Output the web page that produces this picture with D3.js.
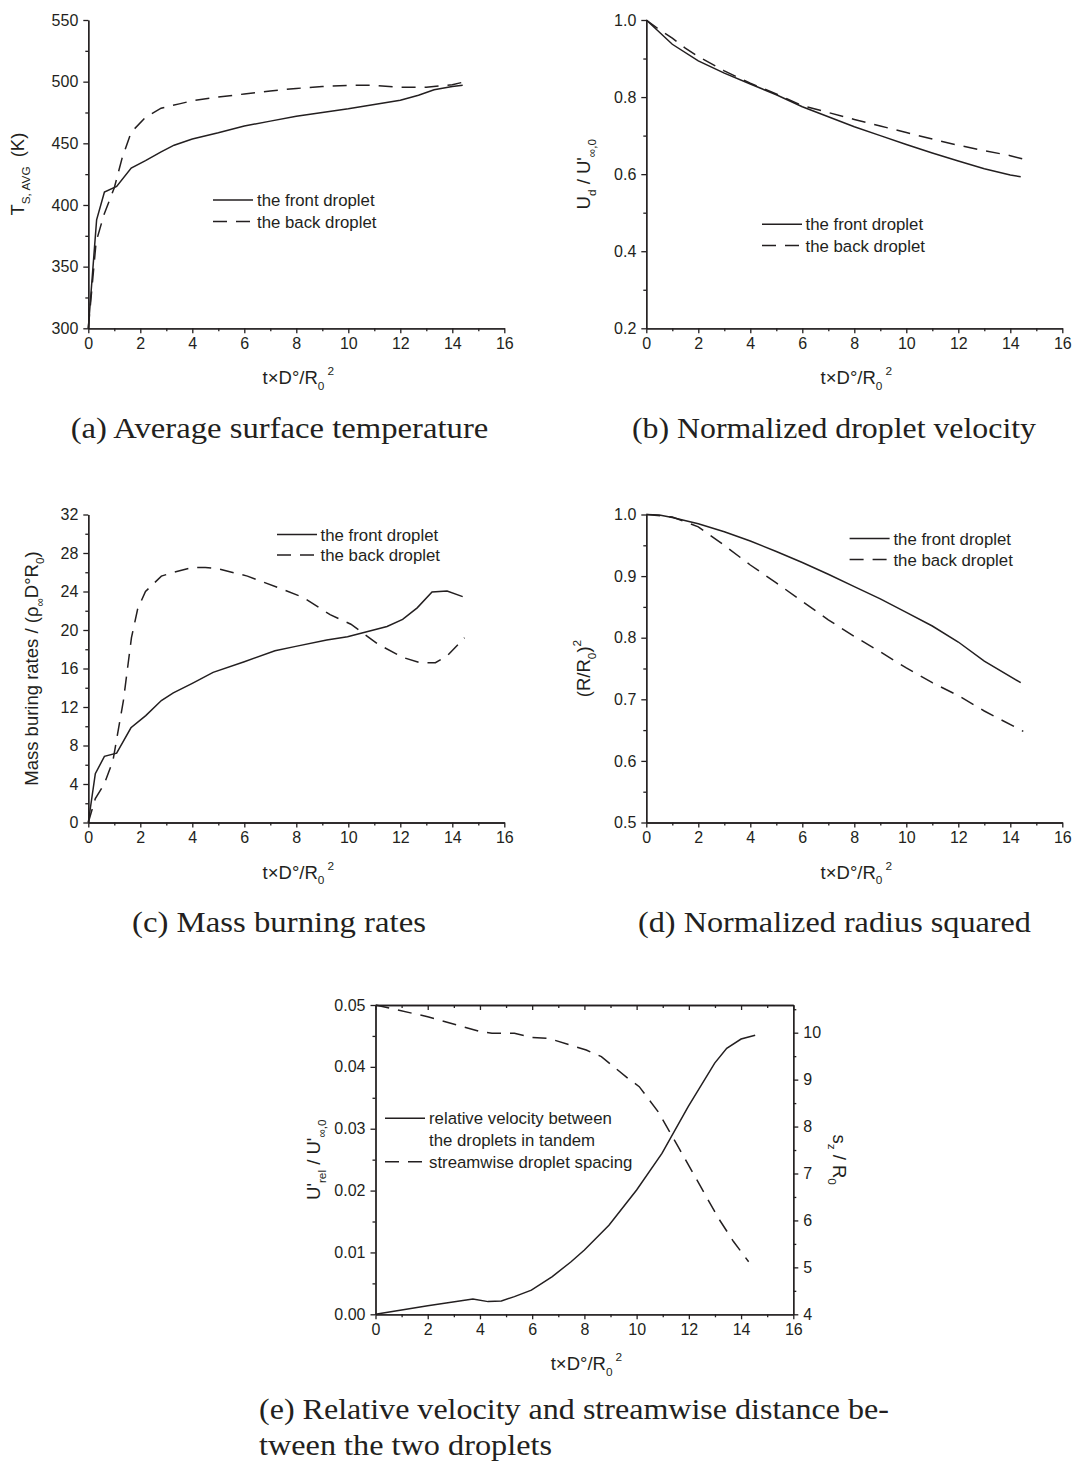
<!DOCTYPE html>
<html lang="en">
<head>
<meta charset="utf-8">
<title>Tandem droplets</title>
<style>
  body { margin: 0; background: #fff; }
  svg { display: block; }
  .tick text, .lbl { font-family: "Liberation Sans", Arial, sans-serif; fill: #231f20; }
  .tick text { font-size: 16px; }
  .cap { font-family: "Liberation Serif", "Times New Roman", serif; fill: #231f20; font-size: 29px; }
  .domain, .tick line { stroke: #231f20; stroke-width: 1.3; }
</style>
</head>
<body>
<svg id="fig" width="1078" height="1468"></svg>
<script src="https://cdn.jsdelivr.net/npm/d3@7/dist/d3.min.js"></script>
<script>
// ---- data: [t x D/R0^2, value] ----
const frontTemp = [[0,300],[0.32,388],[0.62,410.5],[1.09,415],[1.65,430],[2.2,436],[2.8,443],[3.3,448.5],[4,453.5],[5,458.5],[6,464],[7,468],[8,472],[9,475],[10,478],[11,481.5],[12,485],[12.7,489],[13.3,493.5],[14,496],[14.4,497]];
const backTemp  = [[0,300],[0.3,370],[0.6,392],[1.0,414],[1.3,438],[1.65,459],[2.2,471],[2.8,478.5],[3.5,482],[4,484.5],[5,487.5],[6,490],[7,492.5],[8,494.5],[9,496],[10,497],[11,497],[12,495.5],[13,495.5],[14,497.5],[14.4,499.5]];

const frontVel = [[0,1.0],[1,0.937],[2,0.894],[3,0.862],[4,0.834],[5,0.806],[6,0.775],[7,0.749],[8,0.723],[9,0.7],[10,0.677],[11,0.655],[12,0.634],[13,0.614],[14,0.598],[14.4,0.593]];
const backVel  = [[0,1.0],[0.5,0.975],[1,0.953],[1.5,0.927],[2,0.905],[3,0.868],[4,0.836],[5,0.808],[6,0.778],[7,0.76],[8,0.742],[9,0.725],[10,0.708],[11,0.691],[12,0.675],[13,0.661],[14,0.648],[14.5,0.639]];

const frontBurn = [[0,0],[0.27,5.07],[0.62,6.87],[1.09,7.2],[1.64,9.84],[2.21,11.1],[2.81,12.67],[3.27,13.46],[4.0,14.46],[4.8,15.6],[6.0,16.7],[7.18,17.85],[7.98,18.3],[9.17,18.95],[9.97,19.3],[11.49,20.37],[12.09,21.1],[12.65,22.3],[13.22,23.96],[13.8,24.06],[14.4,23.47]];
const backBurn  = [[0,0],[0.27,2.49],[0.62,4.04],[0.95,6.45],[1.35,12.67],[1.66,19.2],[1.9,22.2],[2.2,24.0],[2.81,25.6],[3.3,26.0],[4.0,26.5],[4.5,26.5],[4.93,26.4],[6.12,25.6],[7.3,24.4],[8.25,23.4],[9.3,21.6],[10.1,20.6],[11.16,18.5],[12.1,17.15],[12.75,16.6],[13.35,16.6],[13.8,17.3],[14.47,19.2]];

const frontRad = [[0,1.0],[0.5,0.999],[1,0.995],[2,0.985],[3,0.972],[4,0.957],[5,0.94],[6,0.922],[7,0.903],[8,0.883],[9,0.863],[10,0.841],[11,0.819],[12,0.793],[13,0.762],[14.4,0.727]];
const backRad  = [[0,1.0],[1,0.996],[2,0.98],[3,0.95],[4,0.918],[5,0.889],[6,0.859],[7,0.829],[8,0.802],[9,0.777],[10,0.751],[11,0.727],[12,0.706],[13,0.681],[14.5,0.648]];

const relVel  = [[0,0],[2.0,0.0014],[3.73,0.00248],[4.31,0.00205],[4.82,0.00216],[5.32,0.00286],[5.97,0.0039],[6.77,0.0061],[7.49,0.0085],[8.0,0.0104],[8.94,0.0144],[10.0,0.0201],[10.97,0.026],[11.98,0.0336],[12.99,0.0406],[13.45,0.043],[14.0,0.0445],[14.54,0.0451]];
const spacing = [[0,10.59],[2.0,10.34],[3.15,10.16],[4.02,10.02],[4.46,9.99],[5.32,9.99],[5.97,9.9],[6.63,9.88],[8.07,9.63],[8.65,9.49],[9.66,9.03],[10.1,8.85],[10.82,8.32],[11.54,7.62],[12.27,6.9],[13.13,6.05],[13.71,5.55],[14.29,5.12]];

// ---- tick values ----
const timeTicks  = [0,2,4,6,8,10,12,14,16];
const tempTicks  = [300,350,400,450,500,550];
const velTicks   = [0.2,0.4,0.6,0.8,1.0];
const burnTicks  = [0,4,8,12,16,20,24,28,32];
const radTicks   = [0.5,0.6,0.7,0.8,0.9,1.0];
const relTicks   = [0,0.01,0.02,0.03,0.04,0.05];
const spaceTicks = [4,5,6,7,8,9,10];

const legendPair = ["the front droplet", "the back droplet"];
const legendRel  = ["relative velocity between", "the droplets in tandem", "streamwise droplet spacing"];

const INK = "#231f20";
const DASH = "14,9";
const TITLE = 18.5;
const svg = d3.select("#fig");

const mids = a => a.slice(1).map((v, i) => (v + a[i]) / 2);

function rich(sel, parts, base) {
  // parts: [text, shift] shift 0 normal, 1 subscript, -1 superscript
  let cur = 0;
  parts.forEach(([s, k, dx]) => {
    const off = k === 1 ? 5.5 : k === -1 ? -9 : 0;
    const t = sel.append("tspan").text(s).attr("dy", off - cur);
    if (k) t.attr("font-size", base * 0.64);
    if (dx) t.attr("dx", dx);
    cur = off;
  });
}

function axisGroup(parent, axis, tr) {
  return parent.append("g").attr("transform", tr).call(axis);
}

function panel(o) {
  const g = svg.append("g");
  const x = d3.scaleLinear().domain([0, 16]).range([o.left, o.right]);
  const y = d3.scaleLinear().domain(o.yDomain).range([o.bottom, o.top]);

  axisGroup(g, d3.axisBottom(x).tickValues(mids(timeTicks)).tickSize(3).tickSizeOuter(0).tickFormat(""), `translate(0,${o.bottom})`);
  axisGroup(g, d3.axisBottom(x).tickValues(timeTicks).tickSize(5).tickSizeOuter(0).tickPadding(4), `translate(0,${o.bottom})`);
  axisGroup(g, d3.axisLeft(y).tickValues(mids(o.yTicks)).tickSize(3).tickSizeOuter(0).tickFormat(""), `translate(${o.left},0)`);
  axisGroup(g, d3.axisLeft(y).tickValues(o.yTicks).tickSize(5).tickSizeOuter(0).tickPadding(5).tickFormat(d3.format(o.fmt)), `translate(${o.left},0)`);

  // x title
  const xt = g.append("text").attr("class", "lbl").attr("font-size", TITLE)
    .attr("text-anchor", "middle").attr("x", (o.left + o.right) / 2 + 2).attr("y", o.bottom + 56);
  rich(xt, [["t×D°/R", 0], ["0", 1], ["2", -1, 3]], TITLE);

  // y title
  const yc = (o.top + o.bottom) / 2;
  const yt = g.append("text").attr("class", "lbl").attr("font-size", TITLE)
    .attr("text-anchor", "middle")
    .attr("transform", `translate(${o.yTitleX},${yc}) rotate(-90)`);
  rich(yt, o.yTitle, TITLE);

  return { g, x, y };
}

function curve(p, x, y, data, dashed) {
  p.g.append("path").datum(data)
    .attr("fill", "none").attr("stroke", INK).attr("stroke-width", 1.5)
    .attr("stroke-dasharray", dashed ? DASH : null)
    .attr("d", d3.line().x(d => x(d[0])).y(d => y(d[1])));
}

function legend(p, lx, tx, rows, labels, dashes) {
  labels.forEach((s, i) => {
    if (dashes[i] !== undefined) {
      p.g.append("line").attr("x1", lx).attr("x2", lx + 40).attr("y1", rows[i]).attr("y2", rows[i])
        .attr("stroke", INK).attr("stroke-width", 1.5).attr("stroke-dasharray", dashes[i] ? DASH : null);
    }
    p.g.append("text").attr("class", "lbl").attr("font-size", 16.8)
      .attr("x", tx).attr("y", rows[i] + 6).text(s);
  });
}

function caption(lines, x, y0, widths) {
  lines.forEach((s, i) => {
    svg.append("text").attr("class", "cap").attr("x", x).attr("y", y0 + i * 36)
      .attr("textLength", widths[i]).attr("lengthAdjust", "spacingAndGlyphs").text(s);
  });
}

// (a)
const pa = panel({ left: 88.3, right: 504.3, top: 20, bottom: 328.3, yDomain: [300, 550], yTicks: tempTicks, fmt: "d",
  yTitleX: 24, yTitle: [["T", 0], ["S, AVG", 1], ["(K)", 0, 9]] });
curve(pa, pa.x, pa.y, frontTemp, false);
curve(pa, pa.x, pa.y, backTemp, true);
legend(pa, 213, 257, [200, 221.5], legendPair, [false, true]);

// (b)
const pb = panel({ left: 646.3, right: 1062.3, top: 20, bottom: 328.3, yDomain: [0.2, 1.0], yTicks: velTicks, fmt: ".1f",
  yTitleX: 590, yTitle: [["U", 0], ["d", 1], [" / U'", 0], ["∞,0", 1]] });
curve(pb, pb.x, pb.y, frontVel, false);
curve(pb, pb.x, pb.y, backVel, true);
legend(pb, 762, 805.5, [224.2, 245.6], legendPair, [false, true]);

// (c)
const pc = panel({ left: 88.3, right: 504.3, top: 514.5, bottom: 822.5, yDomain: [0, 32], yTicks: burnTicks, fmt: "d",
  yTitleX: 38, yTitle: [["Mass buring rates / (ρ", 0], ["∞", 1], ["D°R", 0], ["0", 1], [")", 0]] });
curve(pc, pc.x, pc.y, frontBurn, false);
curve(pc, pc.x, pc.y, backBurn, true);
legend(pc, 277, 320.6, [534.5, 555], legendPair, [false, true]);

// (d)
const pd = panel({ left: 646.3, right: 1062.3, top: 514.5, bottom: 822.5, yDomain: [0.5, 1.0], yTicks: radTicks, fmt: ".1f",
  yTitleX: 590, yTitle: [["(R/R", 0], ["0", 1], [")", 0], ["2", -1]] });
curve(pd, pd.x, pd.y, frontRad, false);
curve(pd, pd.x, pd.y, backRad, true);
legend(pd, 849.6, 893.4, [538.5, 559.5], legendPair, [false, true]);

// (e)
const pe = panel({ left: 375.5, right: 793.3, top: 1005, bottom: 1314.3, yDomain: [0, 0.05], yTicks: relTicks, fmt: ".2f",
  yTitleX: 320, yTitle: [["U'", 0], ["rel", 1], [" / U'", 0], ["∞,0", 1]] });
const y2 = d3.scaleLinear().domain([4, 10.59]).range([1314.3, 1005]);
axisGroup(pe.g, d3.axisBottom(pe.x).tickValues(mids(timeTicks)).tickSize(3).tickSizeOuter(0).tickFormat(""), `translate(0,1005)`);
axisGroup(pe.g, d3.axisBottom(pe.x).tickValues(timeTicks).tickSize(5).tickSizeOuter(0).tickFormat(""), `translate(0,1005)`);
axisGroup(pe.g, d3.axisRight(y2).tickValues(mids(spaceTicks).concat([10.5])).tickSize(3).tickSizeOuter(0).tickFormat(""), `translate(793.3,0)`);
axisGroup(pe.g, d3.axisRight(y2).tickValues(spaceTicks).tickSize(5).tickSizeOuter(0).tickPadding(5).tickFormat(d3.format("d")), `translate(793.3,0)`);
const rt = pe.g.append("text").attr("class", "lbl").attr("font-size", TITLE).attr("text-anchor", "middle")
  .attr("transform", `translate(833,${(1005 + 1314.3) / 2}) rotate(90)`);
rich(rt, [["s", 0], ["z", 1], [" / R", 0], ["0", 1]], TITLE);
curve(pe, pe.x, pe.y, relVel, false);
curve(pe, pe.x, y2, spacing, true);
legend(pe, 385, 429, [1118.3, 1140, 1161.7], legendRel, [false, undefined, true]);

// captions
caption(["(a) Average surface temperature"], 70.7, 438, [417.6]);
caption(["(b) Normalized droplet velocity"], 632, 438, [404]);
caption(["(c) Mass burning rates"], 132, 932, [294]);
caption(["(d) Normalized radius squared"], 638, 932, [393]);
caption(["(e) Relative velocity and streamwise distance be-", "tween the two droplets"], 259, 1419, [630, 293]);
</script>
</body>
</html>
